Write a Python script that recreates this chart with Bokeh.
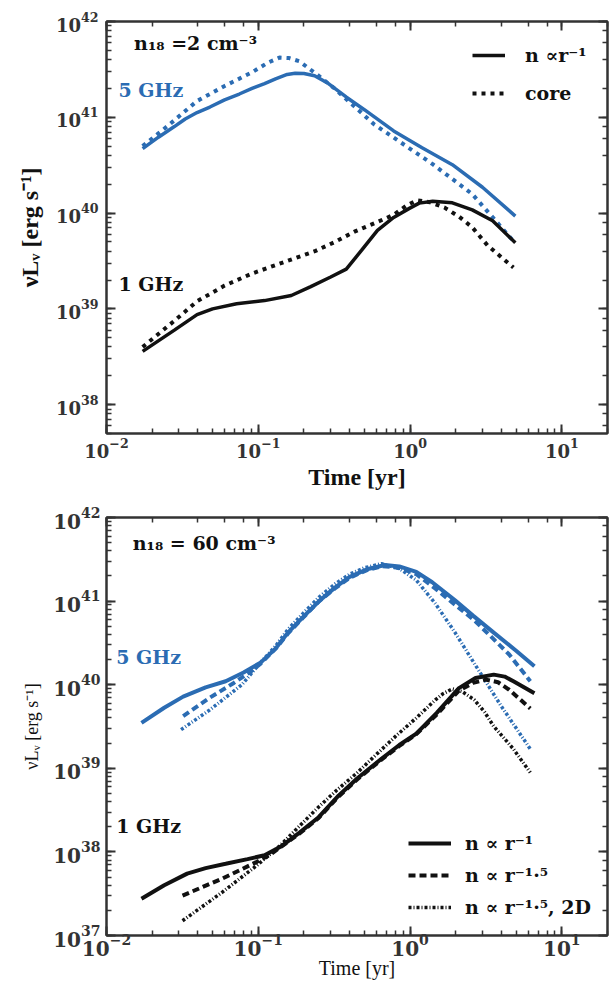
from bokeh.plotting import figure
from bokeh.models import LogAxis, Legend, LegendItem, Label, CustomJSTickFormatter, Range1d
from bokeh.layouts import column
from bokeh.embed import file_html
from bokeh.resources import INLINE

BLUE = "#2b6cb3"
BLACK = "#111111"
AX = "#333333"

# ---------------- top panel (n18 = 2 cm^-3) ----------------
top_t_5_r1 = [0.0173, 0.022, 0.028, 0.033, 0.0395, 0.048, 0.06, 0.075, 0.091, 0.11, 0.130, 0.155, 0.175,
              0.2, 0.235, 0.29, 0.381, 0.5, 0.78, 1.2, 1.9, 3.0, 4.94]
top_L_5_r1 = [4.7e40, 6.2e40, 8.0e40, 9.6e40, 1.12e41, 1.28e41, 1.52e41, 1.75e41, 2.0e41, 2.25e41, 2.52e41,
              2.8e41, 2.88e41, 2.86e41, 2.72e41, 2.25e41, 1.62e41, 1.2e41, 7.2e40, 4.8e40, 3.2e40, 1.86e40, 9.3e39]

top_t_5_core = [0.0173, 0.025, 0.0395, 0.06, 0.091, 0.115, 0.138, 0.16, 0.186, 0.24, 0.318, 0.577, 1.41, 2.57, 4.8]
top_L_5_core = [5.0e40, 8.0e40, 1.48e41, 2.12e41, 2.95e41, 3.7e41, 4.2e41, 4.15e41, 3.85e41, 2.85e41, 2.0e41,
                8.5e40, 3.24e40, 1.58e40, 5.1e39]

top_t_1_r1 = [0.0173, 0.028, 0.0395, 0.05, 0.072, 0.11, 0.165, 0.22, 0.3, 0.38, 0.48, 0.61, 0.78, 0.99,
              1.15, 1.41, 1.9, 2.57, 3.5, 4.94]
top_L_1_r1 = [3.6e38, 6.0e38, 8.7e38, 1.0e39, 1.13e39, 1.22e39, 1.38e39, 1.7e39, 2.15e39, 2.6e39, 4.1e39,
              6.6e39, 9.0e39, 1.12e40, 1.27e40, 1.33e40, 1.28e40, 1.08e40, 8.3e39, 4.9e39]

top_t_1_core = [0.0173, 0.028, 0.0395, 0.06, 0.091, 0.15, 0.236, 0.32, 0.43, 0.6, 0.78, 0.95, 1.11, 1.35,
                1.69, 2.1, 2.57, 3.24, 4.8]
top_L_1_core = [4.0e38, 7.5e38, 1.2e39, 1.75e39, 2.34e39, 3.1e39, 4.0e39, 5.0e39, 6.4e39, 8.0e39, 9.6e39,
                1.2e40, 1.36e40, 1.3e40, 1.14e40, 9.2e39, 7.1e39, 4.6e39, 2.7e39]

# ---------------- bottom panel (n18 = 60 cm^-3) ----------------
bot_t_5_r1 = [0.017, 0.024, 0.032, 0.045, 0.061, 0.08, 0.104, 0.13, 0.157, 0.2, 0.252, 0.32, 0.40, 0.52,
              0.684, 0.85, 1.1, 1.4, 1.98, 2.6, 3.56, 5.0, 6.6]
bot_L_5_r1 = [3.5e39, 5.3e39, 7.2e39, 9.3e39, 1.1e40, 1.4e40, 1.85e40, 2.7e40, 4.2e40, 6.6e40, 1.0e41,
              1.45e41, 1.95e41, 2.4e41, 2.7e41, 2.6e41, 2.24e41, 1.68e41, 1.02e41, 6.7e40, 4.2e40, 2.55e40, 1.66e40]

bot_t_5_r15 = [0.032, 0.048, 0.069, 0.09, 0.104, 0.13, 0.157, 0.2, 0.252, 0.32, 0.40, 0.52, 0.66, 0.85,
               1.1, 1.47, 2.0, 2.65, 3.5, 4.5, 6.2]
bot_L_5_r15 = [4.2e39, 7.0e39, 1.05e40, 1.45e40, 1.8e40, 2.7e40, 4.1e40, 6.5e40, 1.0e41, 1.42e41, 1.9e41,
               2.35e41, 2.62e41, 2.5e41, 2.1e41, 1.41e41, 8.9e40, 5.9e40, 3.6e40, 2.3e40, 1.1e40]

bot_t_5_2d = [0.031, 0.048, 0.078, 0.104, 0.13, 0.157, 0.2, 0.252, 0.32, 0.40, 0.5, 0.65, 0.85, 1.1,
              1.47, 1.98, 2.65, 4.0, 6.2]
bot_L_5_2d = [2.9e39, 5.0e39, 1.0e40, 1.86e40, 2.9e40, 4.6e40, 7.3e40, 1.12e41, 1.6e41, 2.1e41, 2.5e41,
              2.8e41, 2.45e41, 1.78e41, 9.3e40, 4.2e40, 1.8e40, 5.5e39, 1.7e39]

bot_t_1_r1 = [0.017, 0.024, 0.034, 0.045, 0.061, 0.085, 0.11, 0.14, 0.187, 0.25, 0.338, 0.45, 0.645,
              0.85, 1.1, 1.5, 2.1, 2.7, 3.56, 4.2, 4.8, 6.6]
bot_L_1_r1 = [2.75e37, 4.0e37, 5.5e37, 6.4e37, 7.2e37, 8.2e37, 9.1e37, 1.15e38, 1.7e38, 2.6e38, 4.7e38,
              7.6e38, 1.29e39, 1.9e39, 2.6e39, 4.6e39, 9.1e39, 1.2e40, 1.32e40, 1.25e40, 1.1e40, 7.9e39]

bot_t_1_r15 = [0.0317, 0.058, 0.098, 0.12, 0.187, 0.25, 0.338, 0.45, 0.645, 0.85, 1.1, 1.5, 2.1, 2.6,
               3.16, 3.8, 4.5, 6.2]
bot_L_1_r15 = [3.0e37, 4.8e37, 7.6e37, 9.3e37, 1.66e38, 2.55e38, 4.6e38, 7.4e38, 1.26e39, 1.85e39, 2.57e39,
               4.4e39, 8.5e39, 1.05e40, 1.15e40, 1.07e40, 8.7e39, 5.2e39]

bot_t_1_2d = [0.0317, 0.058, 0.098, 0.14, 0.19, 0.252, 0.33, 0.45, 0.62, 0.82, 1.1, 1.47, 1.65, 1.9,
              2.2, 2.65, 3.1, 3.55, 4.8, 6.2]
bot_L_1_2d = [1.5e37, 3.3e37, 6.9e37, 1.2e38, 2.1e38, 3.5e38, 5.5e38, 8.9e38, 1.55e39, 2.5e39, 4.0e39,
              6.6e39, 7.8e39, 8.9e39, 8.3e39, 6.6e39, 4.7e39, 3.2e39, 1.7e39, 8.9e38]

SERIF = "DejaVu Serif"


def make_fig(width, height, left, right, top, bottom, yr, tick_size, label_size, label_style):
    p = figure(width=width, height=height, x_axis_type="log", y_axis_type="log",
               x_range=Range1d(0.01, 20), y_range=Range1d(*yr),
               output_backend="svg", toolbar_location=None,
               min_border_left=left, min_border_right=right,
               min_border_top=top, min_border_bottom=bottom)
    blank = "return ''"
    p.add_layout(LogAxis(formatter=CustomJSTickFormatter(code=blank), major_label_standoff=0), "right")
    p.add_layout(LogAxis(formatter=CustomJSTickFormatter(code=blank), major_label_standoff=0), "above")
    p.grid.visible = False
    p.outline_line_color = AX
    p.outline_line_width = 2
    p.background_fill_color = "white"
    p.border_fill_color = "white"
    for ax in p.axis:
        ax.axis_line_color = AX
        ax.axis_line_width = 2
        ax.major_tick_in = 9
        ax.major_tick_out = 0
        ax.minor_tick_in = 5
        ax.minor_tick_out = 0
        ax.major_tick_line_color = AX
        ax.major_tick_line_width = 2
        ax.minor_tick_line_color = AX
        ax.minor_tick_line_width = 1.5
        ax.major_label_text_font = SERIF
        ax.major_label_text_font_style = "bold"
        ax.major_label_text_font_size = tick_size
        ax.major_label_text_color = AX
        ax.axis_label_text_font = "Liberation Serif"
        ax.axis_label_text_font_style = label_style
        ax.axis_label_text_font_size = label_size
        ax.axis_label_text_color = BLACK
    return p


def style_legend(leg, gw, lh, sp, so):
    leg.border_line_alpha = 0
    leg.background_fill_alpha = 0
    leg.label_text_font = SERIF
    leg.label_text_font_style = "bold"
    leg.label_text_font_size = "19px"
    leg.label_text_color = BLACK
    leg.glyph_width = gw
    leg.glyph_height = 20
    leg.label_height = lh
    leg.spacing = sp
    leg.padding = 10
    leg.label_standoff = so


# ---------- top figure ----------
p1 = make_fig(614, 497, 106, 7, 21, 64, (5.0e37, 1.0e42), "18px", "24px", "bold")
p1.below[0].axis_label = "Time [yr]"
p1.left[0].axis_label = "νLᵥ [erg s⁻¹]"
p1.below[0].major_label_standoff = 4
p1.left[0].major_label_standoff = 8
p1.below[0].axis_label_standoff = 3
p1.left[0].axis_label_standoff = 10

p1.line(top_t_5_r1, top_L_5_r1, line_color=BLUE, line_width=3.5)
p1.line(top_t_5_core, top_L_5_core, line_color=BLUE, line_width=4, line_dash="4 5")
r_b = p1.line(top_t_1_r1, top_L_1_r1, line_color=BLACK, line_width=3.5)
r_c = p1.line(top_t_1_core, top_L_1_core, line_color=BLACK, line_width=4, line_dash="4 5")

leg1 = Legend(items=[LegendItem(label="n ∝r⁻¹", renderers=[r_b]),
                     LegendItem(label="core", renderers=[r_c])],
              location=(356, 315))
style_legend(leg1, 33, 30, 8, 20)
p1.add_layout(leg1)

for txt, x, y, c in [("n₁₈ =2 cm⁻³", 0.0152, 5.9e41, BLACK),
                     ("5 GHz", 0.0120, 1.95e41, BLUE),
                     ("1 GHz", 0.0120, 1.82e39, BLACK)]:
    p1.add_layout(Label(x=x, y=y, text=txt, text_color=c, text_font=SERIF,
                        text_font_style="bold", text_font_size="19px", text_baseline="middle"))

# ---------- bottom figure ----------
p2 = make_fig(614, 484, 99, 7, 20, 44, (1.0e37, 1.0e42), "20px", "20px", "normal")
p2.below[0].axis_label = "Time [yr]"
p2.left[0].axis_label = "νLᵥ [erg s⁻¹]"
p2.left[0].axis_label_text_font_size = "18px"
p2.below[0].major_label_standoff = -2
p2.below[0].axis_label_standoff = -2
p2.left[0].major_label_standoff = 6
p2.left[0].axis_label_standoff = 8

p2.line(bot_t_5_r1, bot_L_5_r1, line_color=BLUE, line_width=4)
p2.line(bot_t_5_r15, bot_L_5_r15, line_color=BLUE, line_width=4, line_dash="7 4")
p2.line(bot_t_5_2d, bot_L_5_2d, line_color=BLUE, line_width=3.5, line_dash="3 2 1 2")
s1 = p2.line(bot_t_1_r1, bot_L_1_r1, line_color=BLACK, line_width=4)
s2 = p2.line(bot_t_1_r15, bot_L_1_r15, line_color=BLACK, line_width=4, line_dash="7 4")
s3 = p2.line(bot_t_1_2d, bot_L_1_2d, line_color=BLACK, line_width=3.5, line_dash="3 2 1 2")

leg2 = Legend(items=[LegendItem(label="n ∝ r⁻¹", renderers=[s1]),
                     LegendItem(label="n ∝ r⁻¹·⁵", renderers=[s2]),
                     LegendItem(label="n ∝ r⁻¹·⁵, 2D", renderers=[s3])],
              location=(292, 5))
style_legend(leg2, 43, 26, 6, 14)
p2.add_layout(leg2)

for txt, x, y, c in [("n₁₈ = 60 cm⁻³", 0.0149, 4.9e41, BLACK),
                     ("5 GHz", 0.0116, 2.14e40, BLUE),
                     ("1 GHz", 0.0116, 2.04e38, BLACK)]:
    p2.add_layout(Label(x=x, y=y, text=txt, text_color=c, text_font=SERIF,
                        text_font_style="bold", text_font_size="19px", text_baseline="middle"))

layout = column(p1, p2, spacing=0)
open("out.html", "w").write(file_html(layout, INLINE))
